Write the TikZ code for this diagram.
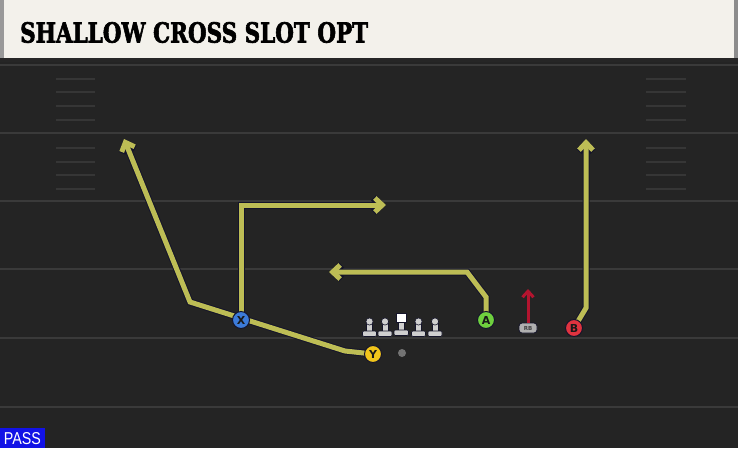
\documentclass[tikz,border=0pt]{standalone}
\usepackage{fontspec}
\usetikzlibrary{arrows.meta}
\newfontfamily\titlefont{DejaVu Serif}[BoldFeatures={FakeBold=2.5}]
\newfontfamily\labfont{DejaVu Sans}
\newfontfamily\passfont{Liberation Sans}
\definecolor{fieldc}{HTML}{242424}
\definecolor{linec}{HTML}{3A3A3A}
\definecolor{hashc}{HTML}{363636}
\definecolor{creamc}{HTML}{F3F1EB}
\definecolor{routec}{HTML}{BDBD55}
\definecolor{outc}{HTML}{14142A}
\definecolor{xblue}{HTML}{3C7BD9}
\definecolor{yyellow}{HTML}{F1C51B}
\definecolor{agreen}{HTML}{6FD03E}
\definecolor{bred}{HTML}{E0333F}
\definecolor{rbred}{HTML}{B3142F}
\definecolor{passblue}{HTML}{1212E6}
\definecolor{olgrey}{HTML}{CFCFCF}
\tikzset{
  yardline/.style={draw=linec, line width=2pt},
  hashline/.style={draw=hashc, line width=1.4pt},
  route/.style={draw=routec, line width=5pt,
    -{Straight Barb[length=7.5pt 0, width=14pt 0]},
    preaction={draw=outc, line width=7pt, -{Straight Barb[length=7.5pt 0, width=14pt 0]}}},
  redroute/.style={draw=rbred, line width=3pt, -{Straight Barb[length=6pt 0, width=11pt 0]}},
  player/.style={circle, minimum size=17pt, inner sep=0pt, draw=outc, line width=1pt,
    text=black!90, font=\labfont\bfseries\fontsize{11}{11}\selectfont},
  rbbox/.style={rounded corners=3pt, minimum width=18pt, minimum height=10pt, inner sep=0pt,
    fill=olgrey!85!black, draw=outc, line width=0.8pt, text=black!75,
    font=\labfont\bfseries\fontsize{5.5}{5.5}\selectfont},
  olpart/.style={fill=olgrey, draw=outc, line width=0.6pt}
}
\begin{document}
\begin{tikzpicture}[x=1pt, y=-1pt]
\useasboundingbox (0,0) rectangle (738,448);
% field
\fill[fieldc] (0,0) rectangle (738,448);
% title bar
\fill[creamc] (0,0) rectangle (738,58);
\fill[black!40] (0,0) rectangle (4,58);
\fill[black!45] (734,0) rectangle (738,58);
\fill[black!85] (0,58) rectangle (738,62);
\node[anchor=west, inner sep=0pt] (title) at (20,32.5)
  {\resizebox{348pt}{20.5pt}{\titlefont\bfseries SHALLOW CROSS SLOT OPT}};
% yard lines
\foreach \yy in {65,133,201,269,338,407}
  \draw[yardline] (0,\yy) -- (738,\yy);
% hash marks
\foreach \yy in {79,92,106,120,148,162,175,189} {
  \draw[hashline] (56,\yy) -- (95,\yy);
  \draw[hashline] (646,\yy) -- (686,\yy);
}
% coordinates of routes
\coordinate (x1) at (241,205);
\coordinate (x2) at (386,205);
\coordinate (y1) at (345,351);
\coordinate (y2) at (190,302);
\coordinate (y3) at (124,139);
\coordinate (a1) at (486,297);
\coordinate (a2) at (467,272);
\coordinate (a3) at (329,272);
\coordinate (b1) at (586,308);
\coordinate (b2) at (586,139);
\coordinate (rb1) at (528,289);
% player positions
\coordinate (Xp) at (241,320);
\coordinate (Yp) at (373,354);
\coordinate (Ap) at (486,320);
\coordinate (Bp) at (574,328);
% routes
\draw[route] (Yp) -- (y1) -- (y2) -- (y3);
\draw[route] (Xp) -- (x1) -- (x2);
\draw[route] (Ap) -- (a1) -- (a2) -- (a3);
\draw[route] (Bp) -- (b1) -- (b2);
% offensive line
\foreach \xx in {369.5,385,418.5,435} {
  \fill[olpart] (\xx-3,321) rectangle (\xx+3,332);
  \fill[olpart] (\xx,321.5) circle (3.6pt);
  \fill[olpart, rounded corners=1.2pt] (\xx-7,331) rectangle (\xx+7,336.5);
}
\fill[olpart] (398.3,321) rectangle (404.3,331);
\fill[olpart, rounded corners=1.2pt] (394,330) rectangle (408.5,335.5);
\fill[white, draw=outc, line width=0.6pt] (396.5,313.5) rectangle (406,322.5);
% ball
\node[circle, fill=black!55, minimum size=8pt, inner sep=0pt] (ball) at (402,353) {};
% RB
\node[rbbox] (RB) at (528,328) {RB};
\draw[redroute] (RB.north) -- (rb1);
% players
\node[player, fill=xblue] (X) at (Xp) {X};
\node[player, fill=yyellow] (Y) at (Yp) {Y};
\node[player, fill=agreen] (A) at (Ap) {A};
\node[player, fill=bred] (B) at (Bp) {B};
% pass label
\fill[passblue] (0,428) rectangle (45,448);
\node[inner sep=0pt, text=white] (pass) at (22.5,438.5)
  {\resizebox{37pt}{12pt}{\passfont PASS}};
\end{tikzpicture}
\end{document}
